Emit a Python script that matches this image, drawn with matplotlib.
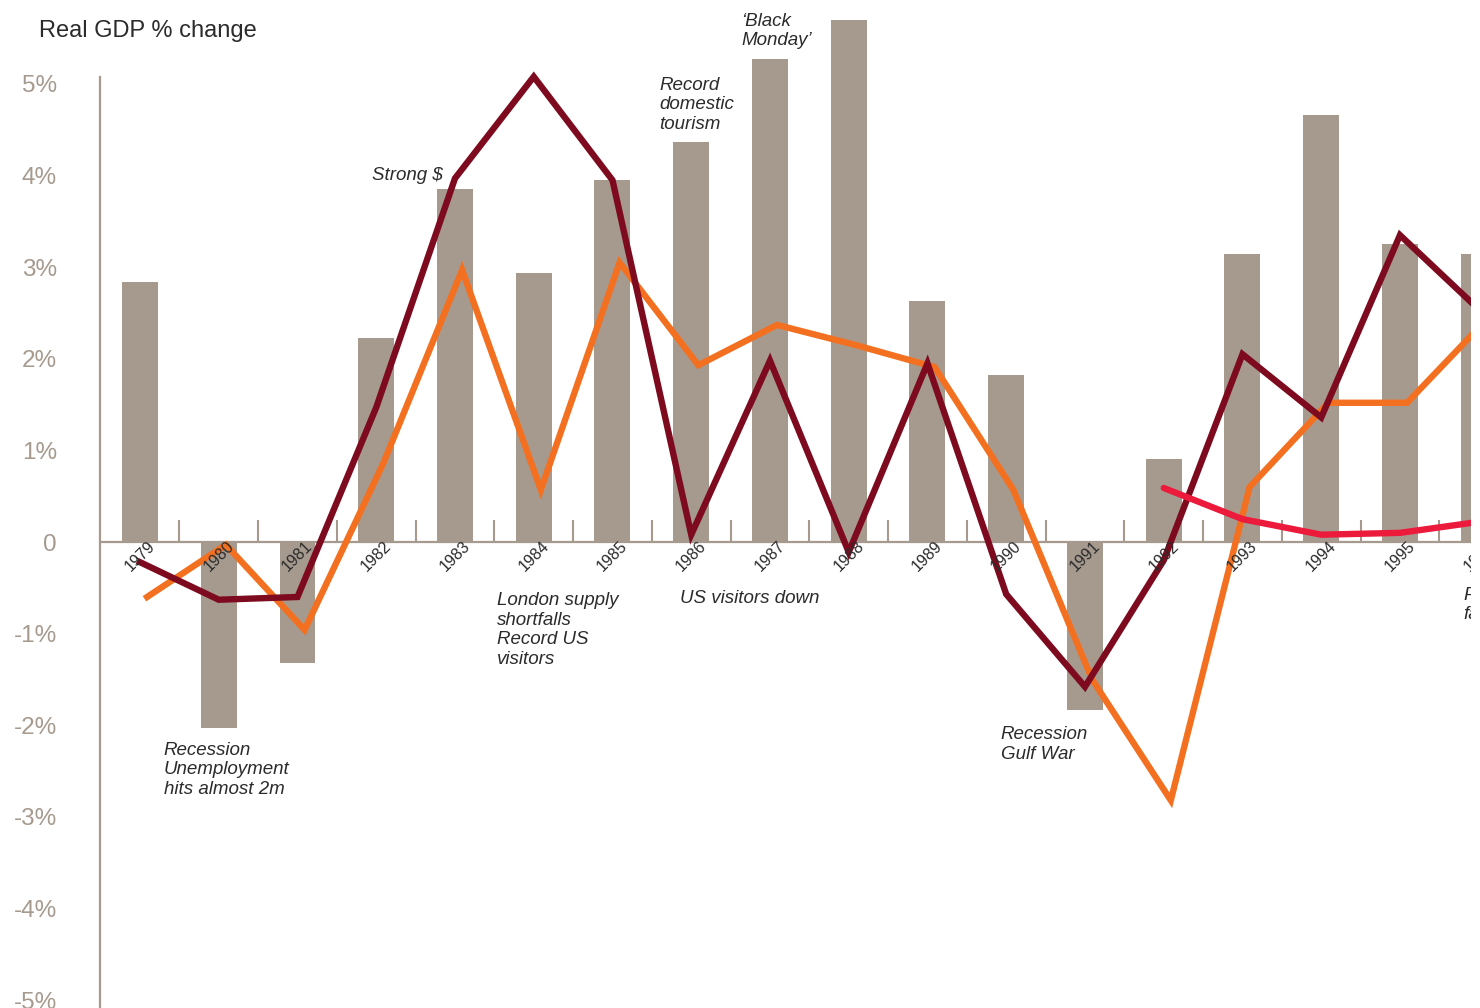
import matplotlib
matplotlib.use("Agg")
import matplotlib.pyplot as plt
import numpy as np

plt.rcParams['font.family'] = ['Liberation Sans', 'DejaVu Sans']

years = list(range(1979, 1997))
gdp_bars = [2.84, -2.03, -1.32, 2.23, 3.85, 2.94, 3.95, 4.37, 5.27, 5.70,
            2.63, 1.82, -1.83, 0.91, 3.14, 4.66, 3.25, 3.14]
series_dark = [-0.22, -0.63, -0.60, 1.47, 3.97, 5.08, 3.95, 0.08, 1.98, -0.11,
               1.95, -0.57, -1.58, -0.20, 2.05, 1.36, 3.35, 2.54]
series_orange = [-0.60, -0.03, -0.96, 0.86, 2.97, 0.57, 3.05, 1.93, 2.37, 2.15,
                 1.91, 0.57, -1.50, -2.82, 0.60, 1.52, 1.52, 2.42]
red_years = [1992, 1993, 1994, 1995, 1996]
series_red = [0.59, 0.25, 0.08, 0.10, 0.22]
ytick_vals = [-5, -4, -3, -2, -1, 0, 1, 2, 3, 4, 5]
ytick_labels = ['-5%', '-4%', '-3%', '-2%', '-1%', '0', '1%', '2%', '3%', '4%', '5%']

annotations = [
    (1982.85, 4.0, "Strong $", 'right'),
    (1986.64, 5.78, "\u2018Black\nMonday\u2019", 'left'),
    (1985.59, 5.08, "Record\ndomestic\ntourism", 'left'),
    (1983.53, -0.55, "London supply\nshortfalls\nRecord US\nvisitors", 'left'),
    (1985.86, -0.62, "US visitors down", 'left'),
    (1979.3, -2.18, "Recession\nUnemployment\nhits almost 2m", 'left'),
    (1989.93, -2.01, "Recession\nGulf War", 'left'),
    (1995.8, -0.49, "Pound\nfalls", 'left'),
]

TAN = '#A69A8F'
DARK = '#7D0A1E'
ORANGE = '#F37021'
RED = '#EC1A3B'
TEXT = '#2B2B2B'
ORANGE_SHIFT = 0.09

fig = plt.figure(figsize=(14.8, 10.08), dpi=100)
ax = fig.add_axes([100/1480, 0, 1371/1480, 1])
ax.set_xlim(1978.492, 1995.902)
ax.set_ylim(-5.087, 5.917)

ax.bar(years, gdp_bars, width=0.457, color=TAN, zorder=2)
ax.axhline(0, color=TAN, lw=1.6, zorder=1)
for y in years:
    ax.plot([y + 0.5, y + 0.5], [0, 0.24], color=TAN, lw=1.5, zorder=1,
            solid_capstyle='butt')

ax.plot(years, series_dark, color=DARK, lw=4.6, zorder=4, solid_joinstyle='miter')
ax.plot(np.array(years) + ORANGE_SHIFT, series_orange, color=ORANGE, lw=4.6,
        zorder=3, solid_joinstyle='miter')
ax.plot(red_years, series_red, color=RED, lw=4.6, zorder=5, solid_capstyle='round')

for s in ['top', 'right', 'bottom']:
    ax.spines[s].set_visible(False)
ax.spines['left'].set_color(TAN)
ax.spines['left'].set_linewidth(1.6)
ax.spines['left'].set_bounds(-5.3, 5.08)

ax.set_xticks([])
ax.set_yticks(ytick_vals)
ax.set_yticklabels(ytick_labels)
ax.tick_params(axis='y', length=0, pad=31, labelsize=17.5, labelcolor=TAN)

for y in years:
    ax.text(y, -0.16, str(y), rotation=45, ha='center', va='center',
            fontsize=11.5, color=TEXT, clip_on=True, zorder=6)

for x, yv, txt, ha in annotations:
    ax.text(x, yv, txt, ha=ha, va='center' if '\n' not in txt else 'top',
            fontsize=13.5, style='italic', color=TEXT, linespacing=1.19,
            clip_on=True, zorder=6)

fig.text(39/1480, 1 - 31/1008, "Real GDP % change", ha='left', va='center',
         fontsize=17, color=TEXT)

fig.savefig('out.png', dpi=100)
